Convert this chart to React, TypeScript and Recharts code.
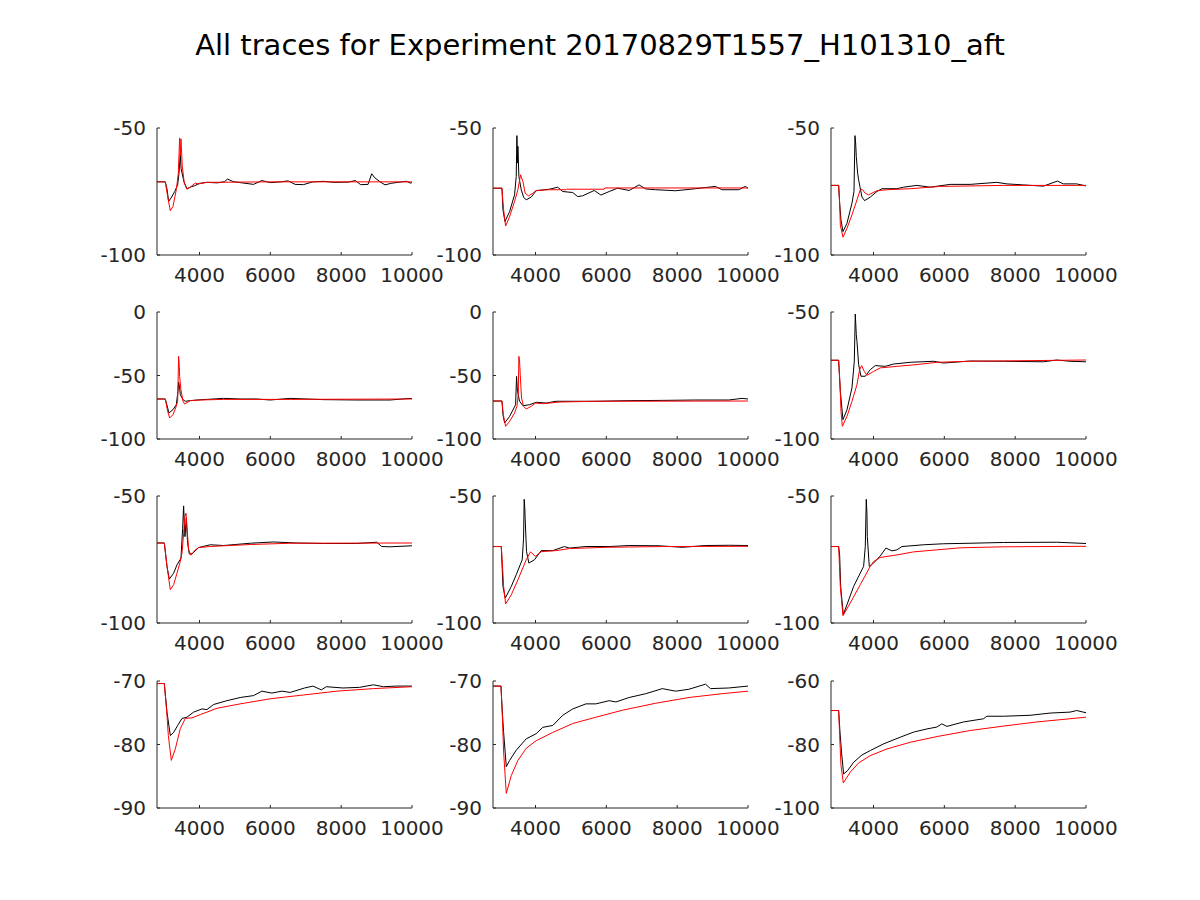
import { LineChart, Line, XAxis, YAxis } from 'recharts';

type Pt = [number, number];

const TITLE = 'All traces for Experiment 20170829T1557_H101310_aft';
const X_TICKS = [4000, 6000, 8000, 10000];

// row 1
const black1: Pt[] = [[2800, -71.2], [3035, -71.2], [3082, -74], [3129, -78.9], [3200, -77.5], [3300, -75], [3383, -72.4], [3420, -68], [3458, -60.3], [3480, -66], [3560, -71.1], [3646, -73.9], [3750, -73.2], [3850, -72.8], [4000, -71.8], [4200, -71.4], [4500, -71.6], [4700, -71.2], [4793, -70.1], [4950, -71.1], [5200, -71.6], [5526, -72.2], [5760, -70.7], [6000, -71.5], [6300, -71.2], [6500, -70.8], [6700, -72.2], [6935, -72.3], [7200, -71.2], [7500, -71], [7800, -71.4], [8200, -71.3], [8400, -70.7], [8550, -72.3], [8760, -72.2], [8862, -68], [8950, -69.6], [9100, -71.2], [9239, -72.4], [9400, -71.8], [9600, -71.4], [9850, -71], [9950, -71.7], [10000, -71.5]];
const red1: Pt[] = [[2800, -71.2], [3035, -71.2], [3101, -77], [3176, -82.6], [3251, -80.9], [3345, -74.3], [3402, -67.8], [3439, -53.9], [3458, -61], [3477, -54.3], [3514, -65.1], [3571, -71.7], [3646, -74.1], [3740, -73.3], [3881, -71.7], [3975, -72], [4210, -71.4], [6000, -71.2], [10000, -71.2]];
const black2: Pt[] = [[2800, -73.7], [3053, -73.7], [3081, -82.2], [3138, -86.8], [3269, -82.9], [3409, -76.3], [3456, -69.1], [3475, -53], [3494, -63.8], [3503, -57.2], [3531, -69.1], [3597, -74.3], [3663, -77.2], [3737, -78.3], [3878, -77.2], [4019, -74.7], [4253, -74.3], [4394, -74.1], [4628, -73.3], [4769, -75], [5050, -75.4], [5191, -77], [5331, -76.7], [5659, -74.6], [5847, -76.4], [6081, -75], [6316, -73.7], [6644, -74.6], [6925, -72.4], [7113, -74], [7394, -74.3], [7956, -74.7], [8519, -73.9], [9081, -73], [9269, -74.3], [9738, -74.3], [9925, -73], [10000, -73.7]];
const red2: Pt[] = [[2800, -73.7], [3053, -73.7], [3072, -77.6], [3100, -82.2], [3156, -88.6], [3269, -84.9], [3409, -78.9], [3503, -74.3], [3578, -68.4], [3644, -71.1], [3709, -75.7], [3803, -76.7], [3925, -75.7], [4019, -74.6], [4394, -74.3], [4863, -74.3], [4881, -74.1], [5941, -74.1], [5959, -73.6], [10000, -73.6]];
const black3: Pt[] = [[2800, -72.6], [3016, -72.6], [3044, -79.6], [3082, -86.2], [3138, -90.8], [3251, -87.5], [3392, -79.6], [3449, -75], [3477, -53], [3496, -55.9], [3514, -61.2], [3552, -67.8], [3580, -70.4], [3674, -77.2], [3749, -78.6], [3909, -77.2], [4097, -75], [4238, -73.9], [4661, -73.9], [4849, -73.3], [5225, -72.6], [5601, -73.3], [6165, -72.2], [6729, -72.2], [7481, -71.4], [7763, -72], [8233, -72.4], [8797, -72.9], [9192, -70.9], [9361, -72], [9737, -72], [10000, -72.8]];
const red3: Pt[] = [[2800, -72.6], [3016, -72.6], [3044, -79.6], [3063, -88.2], [3138, -93], [3251, -89.5], [3392, -84.2], [3533, -78.3], [3627, -74.3], [3674, -74.1], [3768, -75.7], [3862, -76.3], [4097, -74.7], [4379, -74.3], [5037, -73.9], [5883, -73], [7669, -72.6], [10000, -72.6]];

// row 2
const black4: Pt[] = [[2800, -68.5], [3035, -68.5], [3138, -79.5], [3251, -76.9], [3345, -73], [3392, -62.5], [3411, -55.1], [3439, -59.8], [3458, -65.1], [3533, -69], [3599, -70.3], [3740, -69.8], [3928, -69.3], [4680, -68], [5150, -68.5], [5620, -68.5], [5996, -69.3], [6560, -68], [7500, -69], [8440, -69.3], [9380, -69.3], [9944, -68], [10000, -68.3]];
const red4: Pt[] = [[2800, -68.5], [3035, -68.5], [3101, -78.2], [3157, -83.5], [3251, -80.8], [3326, -75.6], [3383, -70.3], [3411, -34.9], [3430, -42.8], [3439, -50.7], [3477, -61.2], [3533, -70.3], [3580, -72.4], [3740, -69.8], [4022, -69.3], [4680, -68.8], [6560, -68.8], [10000, -68.5]];
const black5: Pt[] = [[2800, -70.1], [3053, -70.1], [3081, -80.8], [3128, -87.4], [3269, -82.2], [3438, -73], [3466, -50.7], [3484, -59.8], [3503, -63.8], [3550, -70.3], [3644, -73.8], [3831, -73], [4019, -71.1], [4300, -71.7], [4581, -70.3], [5706, -70.3], [6644, -69.8], [7581, -69.6], [8519, -69.3], [9456, -69.3], [9831, -68], [10000, -68.5]];
const red5: Pt[] = [[2800, -70.1], [3053, -70.1], [3091, -80.8], [3156, -90], [3269, -86.1], [3409, -79.5], [3475, -74.3], [3513, -65.1], [3531, -34.9], [3550, -38.8], [3569, -49.3], [3606, -67.7], [3663, -74.3], [3738, -76.4], [3878, -74.3], [4000, -71.7], [4206, -72.2], [4675, -70.9], [5706, -70.3], [10000, -70.1]];
const black6: Pt[] = [[2800, -69], [3016, -69], [3063, -81.2], [3138, -92.4], [3251, -88.5], [3392, -79.9], [3458, -69.4], [3486, -50.8], [3514, -58.9], [3533, -61.5], [3580, -70.7], [3646, -75.3], [3768, -75.3], [3909, -72.7], [4050, -71.1], [4332, -71.4], [4567, -70.5], [5037, -69.8], [5695, -69.4], [5977, -70.1], [6729, -69.3], [7669, -69.4], [8797, -69.6], [9173, -68.9], [9549, -69.4], [10000, -69.6]];
const red6: Pt[] = [[2800, -69], [3016, -69], [3054, -78.6], [3082, -89.1], [3120, -95], [3251, -91.1], [3392, -85.2], [3533, -78.6], [3608, -72.7], [3665, -71.1], [3740, -73.4], [3815, -74.9], [4003, -73.4], [4191, -72], [4661, -71.4], [5225, -70.7], [5789, -69.8], [6729, -69.4], [10000, -68.9]];

// row 3
const black7: Pt[] = [[2800, -68.5], [3007, -68.5], [3082, -77.7], [3148, -82.7], [3270, -80.4], [3364, -77.1], [3477, -74.5], [3524, -62.7], [3552, -53.9], [3571, -60.7], [3590, -66], [3627, -58.8], [3665, -68.6], [3712, -72.8], [3787, -72.8], [3975, -70.3], [4304, -69.2], [4680, -69.5], [5432, -68.6], [6090, -68.1], [6748, -68.5], [7500, -68.7], [8440, -68.7], [9004, -68.2], [9145, -69.9], [9380, -70], [10000, -69.6]];
const red7: Pt[] = [[2800, -68.5], [3007, -68.5], [3082, -77.7], [3176, -86.9], [3270, -84.9], [3364, -80.4], [3458, -75.8], [3505, -72.5], [3552, -64.7], [3590, -58.1], [3618, -56.8], [3646, -62], [3693, -71.2], [3759, -73.3], [3881, -71.2], [3975, -70.3], [4304, -69.9], [4680, -69.6], [5432, -69.1], [6560, -68.6], [10000, -68.5]];
const black8: Pt[] = [[2800, -69.9], [3034, -69.9], [3081, -85.6], [3147, -90.2], [3316, -85.6], [3456, -81], [3625, -75.1], [3663, -66.6], [3681, -51.3], [3700, -55.5], [3709, -59.4], [3747, -71.9], [3813, -76.4], [3972, -75.1], [4159, -71.5], [4488, -71.5], [4816, -69.9], [4956, -70.5], [5425, -69.9], [6081, -69.9], [6644, -69.5], [7488, -69.6], [8144, -70.2], [8800, -69.5], [9456, -69.4], [10000, -69.5]];
const red8: Pt[] = [[2800, -69.9], [3034, -69.9], [3072, -78.4], [3100, -85.6], [3156, -92.5], [3316, -88.9], [3503, -83], [3738, -75.1], [3859, -72], [4000, -73.8], [4159, -71.9], [4581, -71.5], [4956, -70.7], [5988, -70.2], [7581, -69.9], [10000, -69.8]];
const black9: Pt[] = [[2800, -69.9], [3016, -69.9], [3044, -73.2], [3073, -85.6], [3148, -96.7], [3439, -85.6], [3721, -77.7], [3768, -69.9], [3796, -51.3], [3815, -56.8], [3825, -66], [3881, -77.7], [4003, -76.4], [4191, -73.6], [4351, -70.5], [4520, -71.6], [4661, -71.2], [4802, -69.9], [5413, -69.2], [5977, -68.8], [6729, -68.6], [7669, -68.3], [9173, -68.2], [10000, -68.7]];
const red9: Pt[] = [[2800, -69.9], [3016, -69.9], [3063, -85.6], [3138, -97.1], [3345, -92.1], [3627, -84.9], [3909, -77.7], [4003, -75.8], [4191, -74.2], [4661, -73.2], [5131, -72], [5789, -71.2], [6447, -70.4], [7669, -70], [10000, -69.8]];

// row 4
const black10: Pt[] = [[2800, -70.4], [3007, -70.4], [3082, -74.9], [3176, -78.6], [3270, -78.1], [3383, -77], [3505, -75.9], [3646, -75.7], [3834, -74.9], [4069, -74.4], [4210, -74.5], [4398, -73.7], [4774, -73.1], [5150, -72.6], [5526, -72.3], [5761, -71.6], [6043, -71.9], [6325, -71.6], [6560, -71.8], [6969, -71.1], [7204, -70.8], [7439, -71.4], [7580, -70.9], [8050, -71.1], [8520, -71], [8910, -70.6], [9192, -70.9], [9568, -70.8], [10000, -70.8]];
const red10: Pt[] = [[2800, -70.4], [3007, -70.4], [3082, -75.4], [3120, -78.6], [3204, -82.5], [3317, -80.7], [3458, -77.5], [3599, -75.9], [3787, -75.8], [4022, -75.3], [4492, -74.3], [5150, -73.6], [5996, -72.8], [6936, -72.2], [7876, -71.6], [8910, -71.2], [10000, -70.9]];
const black11: Pt[] = [[2800, -70.8], [3025, -70.8], [3063, -74.9], [3100, -78.1], [3175, -83.5], [3269, -82.5], [3456, -80.9], [3738, -79.1], [4019, -78.3], [4206, -77.3], [4488, -77], [4769, -75.4], [5050, -74.4], [5425, -73.6], [5706, -73.6], [6081, -73.1], [6269, -73.3], [6644, -72.6], [7113, -72], [7581, -71.2], [7956, -71.6], [8331, -71.3], [8800, -70.5], [8941, -71.2], [9456, -71.1], [10000, -70.8]];
const red11: Pt[] = [[2800, -70.8], [3025, -70.8], [3063, -75.4], [3100, -81.2], [3175, -87.7], [3316, -84.9], [3503, -82.5], [3738, -80.6], [4019, -79.4], [4488, -78.1], [5050, -76.7], [5706, -75.7], [6456, -74.6], [7394, -73.5], [8331, -72.6], [9269, -72], [10000, -71.6]];
const black12: Pt[] = [[2800, -69.3], [3016, -69.3], [3054, -76.1], [3101, -82.9], [3157, -89.3], [3270, -88.2], [3439, -85.6], [3674, -83.3], [3909, -81.9], [4285, -79.8], [4755, -77.7], [5131, -76.1], [5507, -75.1], [5789, -74.5], [5930, -73.5], [6071, -74.3], [6541, -72.9], [7105, -71.9], [7199, -71.1], [7669, -71.1], [8421, -70.8], [8985, -70.1], [9549, -69.8], [9737, -69.3], [10000, -70]];
const red12: Pt[] = [[2800, -69.3], [3016, -69.3], [3044, -77.2], [3082, -86.6], [3148, -92.1], [3345, -88.7], [3580, -85.8], [3909, -83.5], [4379, -81.4], [5037, -79.3], [5789, -77.5], [6729, -75.6], [7669, -74.2], [8609, -72.9], [10000, -71.4]];

const Y_50 = [-100, -50];
const Y_0 = [-100, -50, 0];
const Y_70 = [-90, -80, -70];
const Y_60 = [-100, -80, -60];

const panels = [
  { black: black1, red: red1, ticks: Y_50 },
  { black: black2, red: red2, ticks: Y_50 },
  { black: black3, red: red3, ticks: Y_50 },
  { black: black4, red: red4, ticks: Y_0 },
  { black: black5, red: red5, ticks: Y_0 },
  { black: black6, red: red6, ticks: Y_50 },
  { black: black7, red: red7, ticks: Y_50 },
  { black: black8, red: red8, ticks: Y_50 },
  { black: black9, red: red9, ticks: Y_50 },
  { black: black10, red: red10, ticks: Y_70 },
  { black: black11, red: red11, ticks: Y_70 },
  { black: black12, red: red12, ticks: Y_60 },
];

const COL_LEFT = [157, 493, 831];
const ROW_TOP = [128, 312, 496, 681];
const PLOT_W = 255;
const PLOT_H = 127;
const PAD_L = 80;
const PAD_T = 20;
const PAD_R = 45;
const PAD_B = 40;
const AXIS = '#262626';
const FONT = '"DejaVu Sans", sans-serif';

const toPts = (arr: Pt[]) => arr.map(([x, y]) => ({ x, y }));

function XTick({ x, y, payload }: any) {
  return (
    <g>
      <line x1={x} y1={y} x2={x} y2={y - 3} stroke={AXIS} />
      <text x={x} y={y + 20} textAnchor="middle" dominantBaseline="central" fontSize={20} fontFamily={FONT} fill={AXIS}>
        {payload.value}
      </text>
    </g>
  );
}

function YTick({ x, y, payload }: any) {
  return (
    <g>
      <line x1={x} y1={y} x2={x + 3} y2={y} stroke={AXIS} />
      <text x={x - 11} y={y} textAnchor="end" dominantBaseline="central" fontSize={20} fontFamily={FONT} fill={AXIS}>
        {payload.value}
      </text>
    </g>
  );
}

function Panel({ black, red, ticks, left, top }: any) {
  const domain = [ticks[0], ticks[ticks.length - 1]];
  return (
    <div style={{ position: 'absolute', left: left - PAD_L, top: top - PAD_T }}>
      <LineChart
        width={PAD_L + PLOT_W + PAD_R}
        height={PAD_T + PLOT_H + PAD_B}
        margin={{ top: PAD_T, right: PAD_R, bottom: 0, left: 0 }}
      >
        <XAxis
          dataKey="x"
          type="number"
          domain={[2800, 10000]}
          ticks={X_TICKS}
          interval={0}
          allowDataOverflow
          height={PAD_B}
          tickSize={0}
          tickMargin={0}
          axisLine={{ stroke: AXIS }}
          tick={(p: any) => <XTick {...p} />}
        />
        <YAxis
          type="number"
          domain={domain}
          ticks={ticks}
          interval={0}
          allowDataOverflow
          width={PAD_L}
          tickSize={0}
          tickMargin={0}
          axisLine={{ stroke: AXIS }}
          tick={(p: any) => <YTick {...p} />}
        />
        <Line data={toPts(black)} dataKey="y" stroke="#000000" strokeWidth={1} dot={false} isAnimationActive={false} />
        <Line data={toPts(red)} dataKey="y" stroke="#ff0000" strokeWidth={1} dot={false} isAnimationActive={false} />
      </LineChart>
    </div>
  );
}

export default function App() {
  return (
    <div style={{ position: 'absolute', left: 0, top: 0, width: 1200, height: 900, background: '#fff', fontFamily: FONT }}>
      <div
        style={{
          position: 'absolute',
          left: 0,
          top: 31,
          width: 1200,
          textAlign: 'center',
          fontSize: 29,
          lineHeight: '29px',
          color: '#000',
        }}
      >
        {TITLE}
      </div>
      {panels.map((p, i) => (
        <Panel
          key={i}
          black={p.black}
          red={p.red}
          ticks={p.ticks}
          left={COL_LEFT[i % 3]}
          top={ROW_TOP[Math.floor(i / 3)]}
        />
      ))}
    </div>
  );
}
